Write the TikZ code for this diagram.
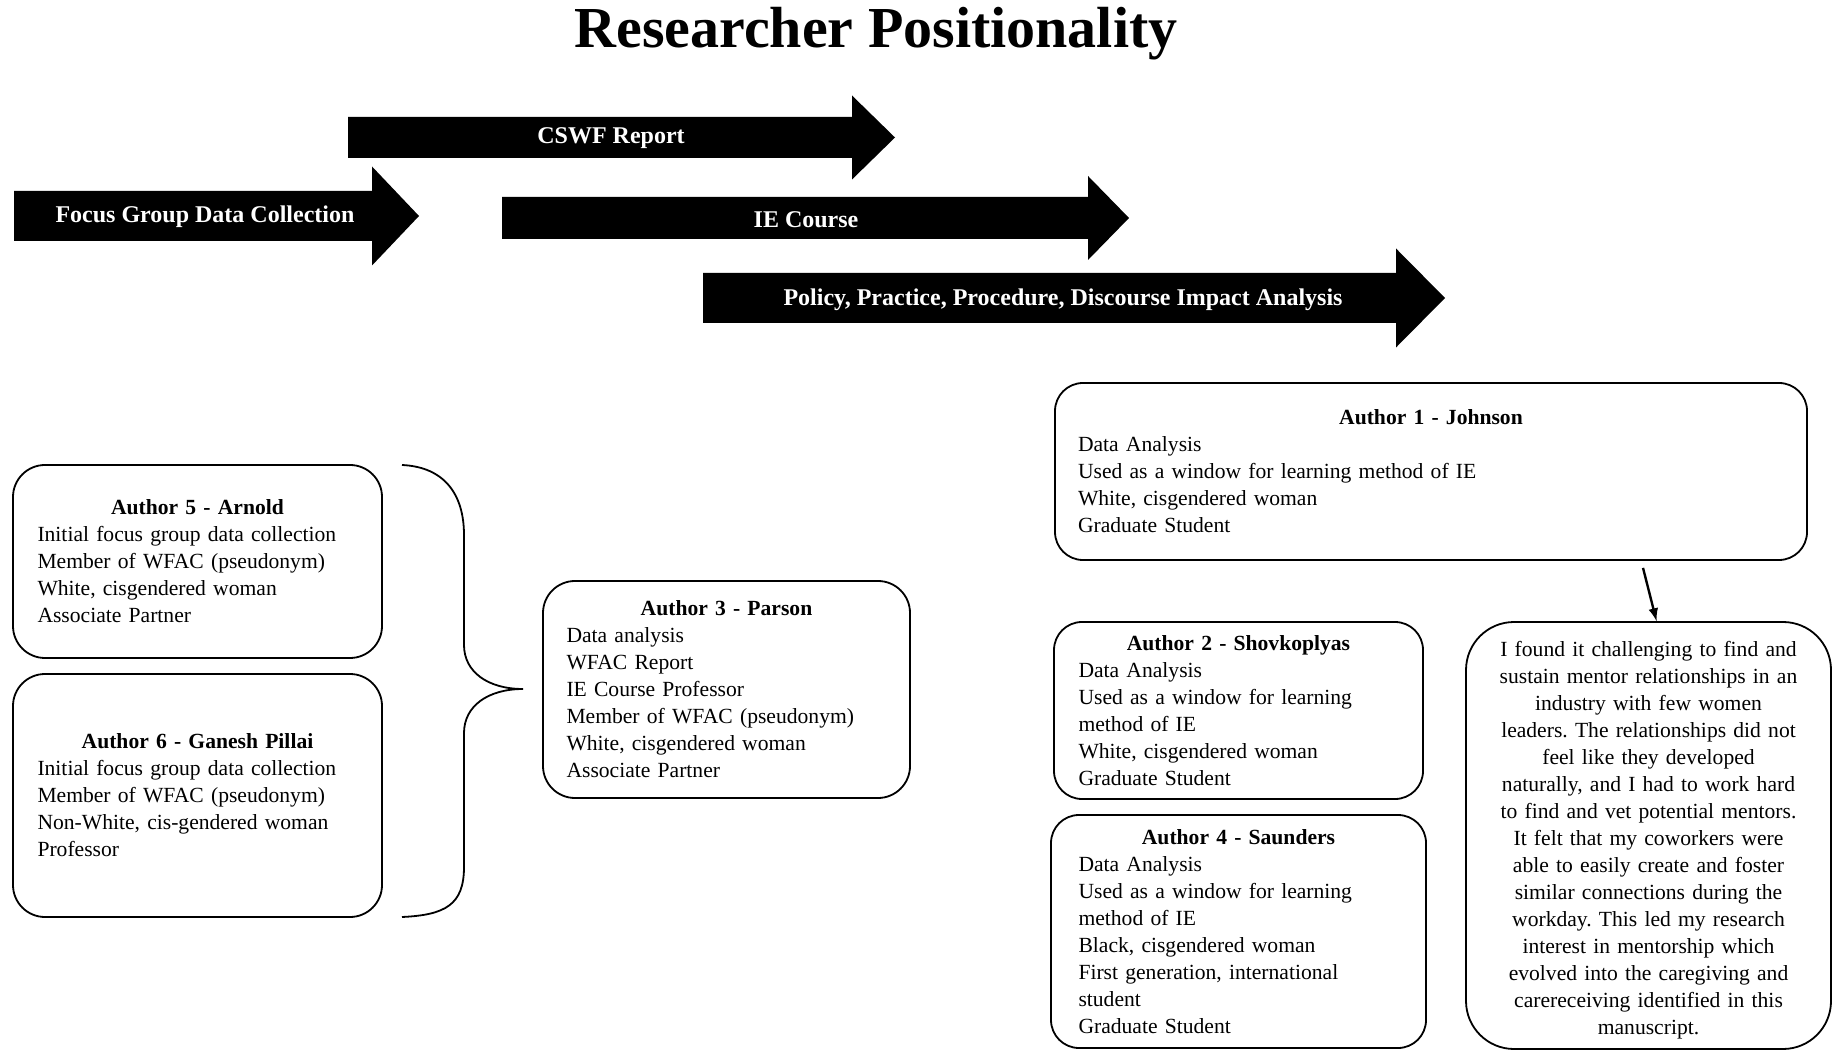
\documentclass[tikz,border=0pt]{standalone}
\usepackage{fontspec}
\setmainfont{Liberation Serif}
\usetikzlibrary{arrows}
\frenchspacing
% left end, body end, tip, mid line, half body, half head
\newcommand\phasearrow[6]{%
  \fill (#1,{#4-#5}) -- (#2,{#4-#5}) -- (#2,{#4-#6}) -- (#3,#4)
    -- (#2,{#4+#6}) -- (#2,{#4+#5}) -- (#1,{#4+#5}) -- cycle;}
\begin{document}
\begin{tikzpicture}[x=0.5pt,y=-0.5pt,
  authorbox/.style={draw,line width=0.9pt,rounded corners=14pt,inner sep=0pt,
    text width=160pt,align=left,font=\fontsize{10.8}{13.5}\selectfont},
  phaselabel/.style={text=white,font=\fontsize{12}{14}\selectfont\bfseries}]
  \useasboundingbox (0,0) rectangle (1835,1052);
  \node [font=\fontsize{29}{32}\selectfont\bfseries,anchor=base] (title) at (876,48) {Researcher Positionality};
  % timeline arrows
  \phasearrow{348}{852}{895}{137.5}{20.5}{42}
  \phasearrow{14}{372}{419}{216}{25}{49.5}
  \phasearrow{502}{1088}{1129}{218}{21}{42}
  \phasearrow{703}{1396}{1445}{298}{25}{49.5}
  \node [phaselabel] (cswf) at (611,138) {CSWF Report};
  \node [phaselabel] (focus) at (205,217) {Focus Group Data Collection};
  \node [phaselabel] (iecourse) at (806,220) {IE Course};
  \node [phaselabel] (policy) at (1063,300) {Policy, Practice, Procedure, Discourse Impact Analysis};
  % left group
  \node [authorbox,rounded corners=16pt,minimum width=184.5pt,minimum height=96.5pt] (author5) at (197.5,561.5)
    {{\centering\textbf{Author 5 - Arnold}\par}Initial focus group data collection\\Member of WFAC (pseudonym)\\White, cisgendered woman\\Associate Partner};
  \node [authorbox,rounded corners=16pt,minimum width=184.5pt,minimum height=121.5pt] (author6) at (197.5,795.5)
    {{\centering\textbf{Author 6 - Ganesh Pillai}\par}Initial focus group data collection\\Member of WFAC (pseudonym)\\Non-White, cis-gendered woman\\Professor};
  \draw [line width=0.9pt] (402,465) .. controls (445,467) and (464,495) .. (464,535) -- (464,645)
    .. controls (464,672) and (488,689) .. (523,689) .. controls (488,689) and (464,706) .. (464,733)
    -- (464,867) .. controls (464,905) and (445,915) .. (402,917);
  \node [authorbox,rounded corners=16pt,minimum width=183.5pt,minimum height=108.5pt] (author3) at (726.5,689.5)
    {{\centering\textbf{Author 3 - Parson}\par}Data analysis\\WFAC Report\\IE Course Professor\\Member of WFAC (pseudonym)\\White, cisgendered woman\\Associate Partner};
  % right group
  \node [authorbox,text width=353pt,minimum width=376pt,minimum height=88.5pt] (author1) at (1431,471.5)
    {{\centering\textbf{Author 1 - Johnson}\par}Data Analysis\\Used as a window for learning method of IE\\White, cisgendered woman\\Graduate Student};
  \node [authorbox,minimum width=184.5pt,minimum height=88.5pt] (author2) at (1238.5,710.5)
    {{\centering\textbf{Author 2 - Shovkoplyas}\par}Data Analysis\\Used as a window for learning\\method of IE\\White, cisgendered woman\\Graduate Student};
  \node [authorbox,minimum width=187.5pt,minimum height=116.5pt] (author4) at (1238.5,931.5)
    {{\centering\textbf{Author 4 - Saunders}\par}Data Analysis\\Used as a window for learning\\method of IE\\Black, cisgendered woman\\First generation, international\\student\\Graduate Student};
  \node [authorbox,align=center,rounded corners=24pt,minimum width=182.5pt,minimum height=213.5pt] (quote) at (1648.5,835.5)
    {\rule{0pt}{12.5pt}I found it challenging to find and\\sustain mentor relationships in an\\industry with few women\\leaders. The relationships did not\\feel like they developed\\naturally, and I had to work hard\\to find and vet potential mentors.\\It felt that my coworkers were\\able to easily create and foster\\similar connections during the\\workday. This led my research\\interest in mentorship which\\evolved into the caregiving and\\carereceiving identified in this\\manuscript.};
  \coordinate (a1out) at ([xshift=106pt,yshift=-3.5pt]author1.south);
  \draw [line width=1.2pt,-latex] (a1out) -- ([xshift=4pt]quote.north);
\end{tikzpicture}
\end{document}
